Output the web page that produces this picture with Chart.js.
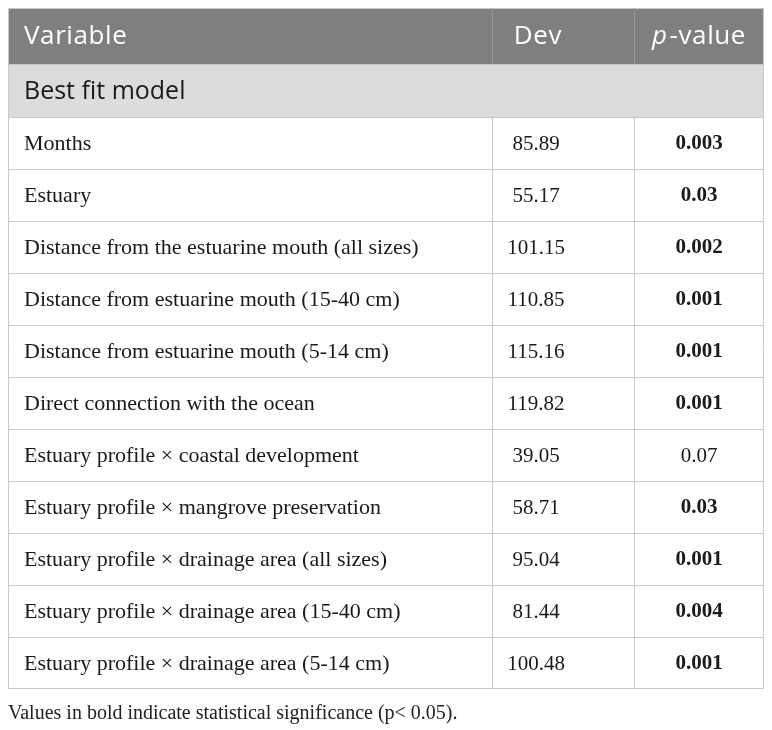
<!DOCTYPE html>
<html>
<head>
<meta charset="utf-8">
<script src="https://cdn.jsdelivr.net/npm/chart.js@4.4.1/dist/chart.umd.min.js"></script>
<style>
  html, body { margin: 0; padding: 0; background: #fff; }
  #wrap { position: relative; width: 772px; height: 730px; }
</style>
</head>
<body>
<div id="wrap"><canvas id="table" width="772" height="730"></canvas></div>
<script>
// table content
const headers = ['Variable', 'Dev', 'p-value'];
const sectionTitle = 'Best fit model';
const variables = [
  'Months',
  'Estuary',
  'Distance from the estuarine mouth (all sizes)',
  'Distance from estuarine mouth (15-40 cm)',
  'Distance from estuarine mouth (5-14 cm)',
  'Direct connection with the ocean',
  'Estuary profile \u00d7 coastal development',
  'Estuary profile \u00d7 mangrove preservation',
  'Estuary profile \u00d7 drainage area (all sizes)',
  'Estuary profile \u00d7 drainage area (15-40 cm)',
  'Estuary profile \u00d7 drainage area (5-14 cm)'
];
const devValues = [85.89, 55.17, 101.15, 110.85, 115.16, 119.82, 39.05, 58.71, 95.04, 81.44, 100.48];
const pValues = ['0.003', '0.03', '0.002', '0.001', '0.001', '0.001', '0.07', '0.03', '0.001', '0.004', '0.001'];
const footnote = 'Values in bold indicate statistical significance (p< 0.05).';

const SANS = '"Open Sans", "Noto Sans", sans-serif';
const SERIF = '"Liberation Serif", "Times New Roman", serif';
const LINE = '#c8c8c8';

const tablePlugin = {
  id: 'tablePlugin',
  beforeDraw(chart) {
    const { ctx, chartArea: area } = chart;
    const y = chart.scales.y;
    const band = y.getPixelForValue(1) - y.getPixelForValue(0);
    const left = area.left, right = area.right;
    const col1 = left + 484, col2 = left + 626;
    const headTop = 8, headBot = 64, secBot = area.top;
    const bottom = area.bottom;

    ctx.save();
    // header + section backgrounds
    ctx.fillStyle = '#7f7f7f';
    ctx.fillRect(left, headTop, right - left, headBot - headTop);
    ctx.fillStyle = '#dcdcdc';
    ctx.fillRect(left, headBot, right - left, secBot - headBot);

    // grid
    ctx.lineWidth = 1;
    ctx.strokeStyle = LINE;
    const hline = (yy) => {
      ctx.beginPath(); ctx.moveTo(left, yy); ctx.lineTo(right, yy); ctx.stroke();
    };
    const vline = (xx, y0, y1) => {
      ctx.beginPath(); ctx.moveTo(xx, y0); ctx.lineTo(xx, y1); ctx.stroke();
    };
    hline(Math.round(headTop) + 0.5);
    hline(headBot + 0.5);
    variables.forEach((v, i) => {
      hline(Math.round(y.getPixelForValue(i) - band / 2) + 0.5);
    });
    hline(Math.round(bottom) - 0.5);
    vline(left + 0.5, headTop, bottom);
    vline(right - 0.5, headTop, bottom);
    vline(col1 + 0.5, secBot, bottom);
    vline(col2 + 0.5, secBot, bottom);
    ctx.strokeStyle = '#9a9a9a';
    vline(col1 + 0.5, headTop, headBot);
    vline(col2 + 0.5, headTop, headBot);

    // header text
    ctx.textBaseline = 'middle';
    ctx.fillStyle = '#ffffff';
    ctx.letterSpacing = '0.6px';
    const hFont = '26px ' + SANS;
    ctx.font = hFont;
    ctx.textAlign = 'left';
    ctx.fillText(headers[0], left + 16, 37);
    ctx.textAlign = 'center';
    ctx.fillText(headers[1], 538, 37);
    // p-value with italic p
    const pPart = headers[2].slice(0, 1), rest = headers[2].slice(1);
    ctx.font = 'italic ' + hFont;
    const wp = ctx.measureText(pPart).width + 2;
    ctx.font = hFont;
    const wr = ctx.measureText(rest).width;
    const startX = (col2 + right) / 2 - (wp + wr) / 2;
    ctx.textAlign = 'left';
    ctx.font = 'italic ' + hFont;
    ctx.fillText(pPart, startX, 37);
    ctx.font = hFont;
    ctx.fillText(rest, startX + wp, 37);
    ctx.letterSpacing = '0px';

    // section row
    ctx.fillStyle = '#1a1a1a';
    ctx.font = '25px ' + SANS;
    ctx.fillText(sectionTitle, left + 16, (headBot + secBot) / 2 + 1);

    // body rows
    variables.forEach((v, i) => {
      const cy = y.getPixelForValue(i) + 1;
      ctx.font = '400 22px ' + SERIF;
      ctx.textAlign = 'left';
      ctx.fillText(v, left + 16, cy);
      ctx.font = '400 21px ' + SERIF;
      ctx.textAlign = 'center';
      ctx.fillText(devValues[i].toFixed(2), col1 + 44, cy);
      const sig = parseFloat(pValues[i]) < 0.05;
      ctx.font = (sig ? '700 ' : '400 ') + '21px ' + SERIF;
      ctx.fillText(pValues[i], (col2 + right) / 2, cy);
    });

    // footnote
    ctx.font = '400 20px ' + SERIF;
    ctx.textAlign = 'left';
    ctx.fillStyle = '#222222';
    ctx.fillText(footnote, left, bottom + 25);
    ctx.restore();
  }
};

new Chart(document.getElementById('table'), {
  type: 'bar',
  data: {
    labels: variables,
    datasets: [{
      label: 'Dev',
      data: devValues,
      backgroundColor: 'rgba(0,0,0,0)',
      borderWidth: 0
    }]
  },
  options: {
    indexAxis: 'y',
    responsive: false,
    animation: false,
    devicePixelRatio: 1,
    layout: { padding: { left: 8, right: 8, top: 117, bottom: 41 } },
    plugins: { legend: { display: false }, tooltip: { enabled: false } },
    scales: {
      x: { display: false, min: 0, max: 1000 },
      y: { display: false, offset: true, grid: { offset: true } }
    }
  },
  plugins: [tablePlugin]
});
</script>
</body>
</html>
